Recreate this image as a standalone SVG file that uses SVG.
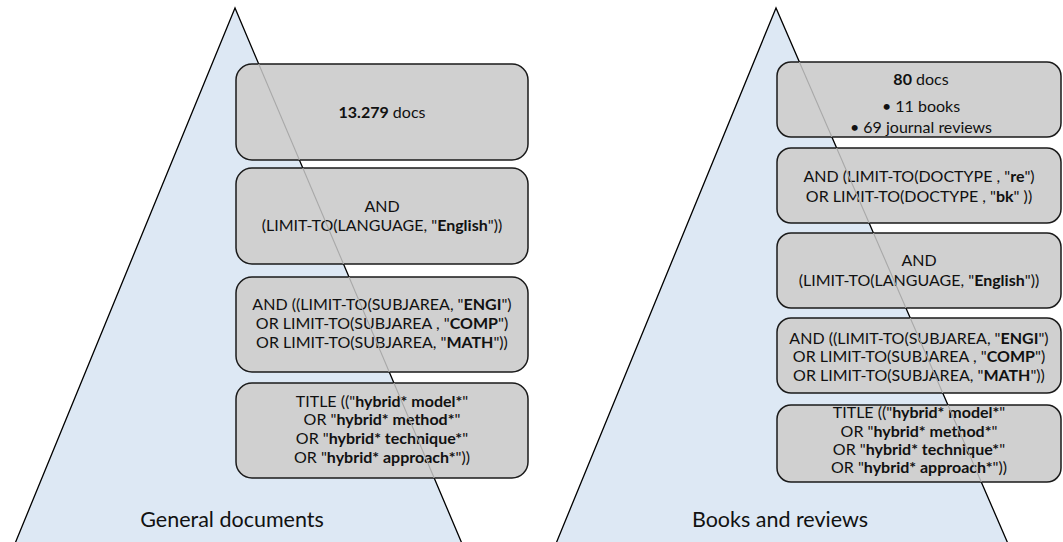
<svg xmlns="http://www.w3.org/2000/svg" width="1063" height="542" viewBox="0 0 1063 542">
  <style>
    .tri { fill: #dde8f4; stroke: #000; stroke-width: 1.3; }
    .box { fill: #d0d0d0; stroke: #1a1a1a; stroke-width: 1.5; }
    .edge { stroke: #a8a8a8; stroke-width: 1.1; fill: none; }
    .t { font-family: Lato, "Open Sans", sans-serif; font-size: 16px; fill: #111; text-anchor: middle; }
    .b { font-weight: bold; }
    .cap { font-family: Lato, "Open Sans", sans-serif; font-size: 21.5px; fill: #111; text-anchor: middle; }
  </style>
  <defs>
    <clipPath id="clipL">
      <rect x="236" y="64" width="292" height="96" rx="16"/>
      <rect x="236" y="168" width="292" height="96" rx="16"/>
      <rect x="236" y="277" width="292" height="95" rx="16"/>
      <rect x="236" y="383" width="292" height="95" rx="16"/>
    </clipPath>
    <clipPath id="clipR">
      <rect x="777" y="62" width="284" height="75" rx="14"/>
      <rect x="777" y="148" width="284" height="75" rx="14"/>
      <rect x="777" y="233" width="284" height="75" rx="14"/>
      <rect x="777" y="318" width="284" height="75" rx="14"/>
      <rect x="777" y="405" width="284" height="77" rx="14"/>
    </clipPath>
  </defs>

  <!-- left pyramid -->
  <g id="pyramid-general">
    <polygon class="tri" points="235,8 14,546 463,546"/>
    <text class="cap" x="232" y="527">General documents</text>
  </g>
  <!-- right pyramid -->
  <g id="pyramid-books">
    <polygon class="tri" points="776,8 555,546 1009,546"/>
    <text class="cap" x="780" y="527">Books and reviews</text>
  </g>

  <!-- left stack -->
  <g id="l-docs">
    <rect class="box" x="236" y="64" width="292" height="96" rx="16"/>
    <text class="t" x="382" y="118"><tspan class="b">13.279</tspan> docs</text>
  </g>
  <g id="l-language">
    <rect class="box" x="236" y="168" width="292" height="96" rx="16"/>
    <text class="t" x="382" y="212">AND</text>
    <text class="t" x="382" y="231">(LIMIT-TO(LANGUAGE, "<tspan class="b">English</tspan>"))</text>
  </g>
  <g id="l-subject">
    <rect class="box" x="236" y="277" width="292" height="95" rx="16"/>
    <text class="t" x="382" y="310">AND ((LIMIT-TO(SUBJAREA, "<tspan class="b">ENGI</tspan>")</text>
    <text class="t" x="382" y="329">OR LIMIT-TO(SUBJAREA , "<tspan class="b">COMP</tspan>")</text>
    <text class="t" x="382" y="348">OR LIMIT-TO(SUBJAREA, "<tspan class="b">MATH</tspan>"))</text>
  </g>
  <g id="l-title">
    <rect class="box" x="236" y="383" width="292" height="95" rx="16"/>
    <text class="t" x="382" y="407">TITLE (("<tspan class="b">hybrid* model*</tspan>"</text>
    <text class="t" x="382" y="425">OR "<tspan class="b">hybrid* method*</tspan>"</text>
    <text class="t" x="382" y="444">OR "<tspan class="b">hybrid* technique*</tspan>"</text>
    <text class="t" x="382" y="463">OR "<tspan class="b">hybrid* approach*</tspan>"))</text>
  </g>

  <!-- right stack -->
  <g id="r-docs">
    <rect class="box" x="777" y="62" width="284" height="75" rx="14"/>
    <text class="t" x="921" y="85"><tspan class="b">80</tspan> docs</text>
    <text class="t" x="921" y="112">• 11 books</text>
    <text class="t" x="921" y="133">• 69 journal reviews</text>
  </g>
  <g id="r-doctype">
    <rect class="box" x="777" y="148" width="284" height="75" rx="14"/>
    <text class="t" x="919" y="182">AND (LIMIT-TO(DOCTYPE , "<tspan class="b">re</tspan>")</text>
    <text class="t" x="919" y="202">OR LIMIT-TO(DOCTYPE , "<tspan class="b">bk</tspan>" ))</text>
  </g>
  <g id="r-language">
    <rect class="box" x="777" y="233" width="284" height="75" rx="14"/>
    <text class="t" x="919" y="266">AND</text>
    <text class="t" x="919" y="286">(LIMIT-TO(LANGUAGE, "<tspan class="b">English</tspan>"))</text>
  </g>
  <g id="r-subject">
    <rect class="box" x="777" y="318" width="284" height="75" rx="14"/>
    <text class="t" x="919" y="344">AND ((LIMIT-TO(SUBJAREA, "<tspan class="b">ENGI</tspan>")</text>
    <text class="t" x="919" y="362">OR LIMIT-TO(SUBJAREA , "<tspan class="b">COMP</tspan>")</text>
    <text class="t" x="919" y="381">OR LIMIT-TO(SUBJAREA, "<tspan class="b">MATH</tspan>"))</text>
  </g>
  <g id="r-title">
    <rect class="box" x="777" y="405" width="284" height="77" rx="14"/>
    <text class="t" x="919" y="418">TITLE (("<tspan class="b">hybrid* model*</tspan>"</text>
    <text class="t" x="919" y="437">OR "<tspan class="b">hybrid* method*</tspan>"</text>
    <text class="t" x="919" y="455">OR "<tspan class="b">hybrid* technique*</tspan>"</text>
    <text class="t" x="919" y="473">OR "<tspan class="b">hybrid* approach*</tspan>"))</text>
  </g>

  <!-- pyramid edges seen faintly through the boxes -->
  <g id="connectors">
    <line class="edge" x1="235" y1="8" x2="463" y2="546" clip-path="url(#clipL)"/>
    <line class="edge" x1="776" y1="8" x2="1009" y2="546" clip-path="url(#clipR)"/>
  </g>
</svg>
